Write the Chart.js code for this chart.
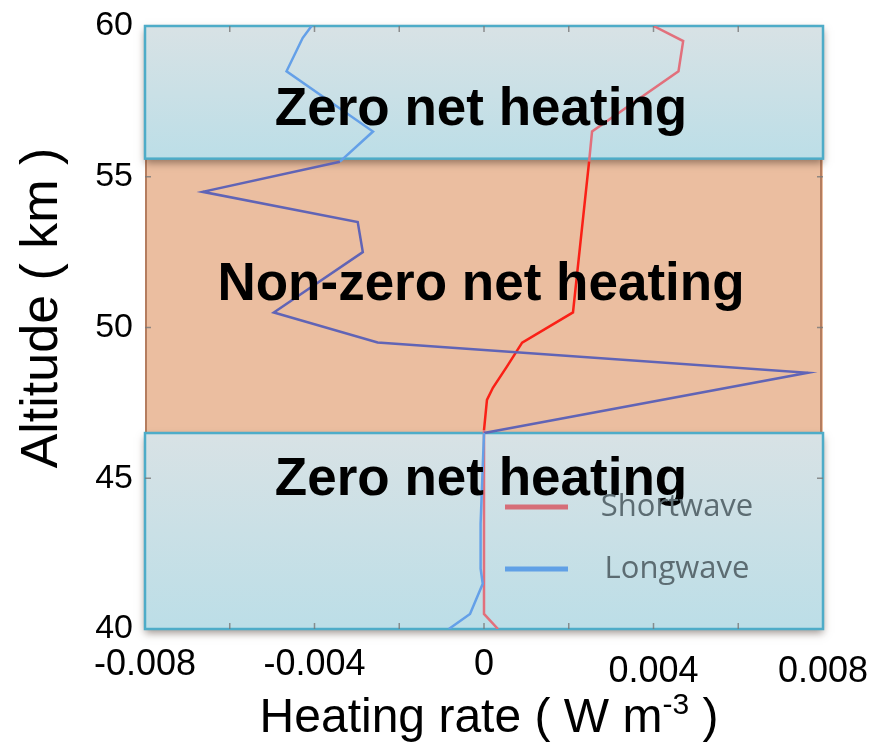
<!DOCTYPE html>
<html>
  <head>
    <meta charset="utf-8" />
    <title>Heating rate profile</title>
    <script src="https://cdn.jsdelivr.net/npm/chart.js@4.4.1/dist/chart.umd.min.js"></script>
    <style>
      body { margin: 0; background: #fff; }
      #wrap { width: 877px; height: 748px; }
    </style>
  </head>
  <body>
    <div id="wrap"><canvas id="myChart"></canvas></div>
    <script>
      // heating rate profiles, altitude in km, rate in W m-3
      const swAltitude = [60, 59.5, 58.5, 56.5, 55.5, 50.5, 49.5, 48.7, 48.0, 47.6, 46.6, 40.5, 40];
      const swRate = [0.0040, 0.0047, 0.00459, 0.00255, 0.00248, 0.0021, 0.0009, 0.00054, 0.00021, 0.00007, 0, 0, 0.00033];
      const lwAltitude = [60, 59.6, 58.5, 56.5, 55.5, 54.5, 53.5, 52.5, 50.5, 49.5, 48.5, 46.5, 43.5, 42, 41.5, 40.5, 40];
      const lwRate = [-0.00407, -0.00428, -0.00466, -0.00262, -0.0034, -0.00664, -0.00298, -0.00286, -0.00496, -0.00251, 0.00764, 0, -0.00008, -0.00008, -0.00003, -0.00033, -0.00083];

      // shaded layers
      const layerBottom = [40, 46.5, 55.6];
      const layerTop = [46.5, 55.6, 60];
      const layerLabels = ["Zero net heating", "Non-zero net heating", "Zero net heating"];
      const layerHeated = [false, true, false];

      const xTickLabels = [-0.008, -0.004, 0, 0.004, 0.008];

      const FONT = '"Liberation Sans", Arial, sans-serif';

      const inHeated = (alt) =>
        layerHeated.some((h, i) => h && alt >= layerBottom[i] && alt <= layerTop[i]);
      const segColor = (light, dark) => (c) =>
        inHeated((c.p0.parsed.y + c.p1.parsed.y) / 2) ? dark : light;

      const layersPlugin = {
        id: "layers",
        beforeDatasetsDraw(chart) {
          const { ctx, chartArea: a, scales: { y } } = chart;
          ctx.save();
          // heated layer first, the others throw a shadow onto it
          layerHeated.forEach((h, i) => {
            if (!h) return;
            const top = y.getPixelForValue(layerTop[i]);
            const bot = y.getPixelForValue(layerBottom[i]);
            ctx.fillStyle = "rgb(235,190,160)";
            ctx.fillRect(a.left, top, a.width, bot - top);
            ctx.strokeStyle = "rgb(180,125,95)";
            ctx.lineWidth = 2;
            ctx.beginPath();
            ctx.moveTo(a.left + 1, top); ctx.lineTo(a.left + 1, bot);
            ctx.moveTo(a.right - 2, top); ctx.lineTo(a.right - 2, bot);
            ctx.stroke();
          });
          layerHeated.forEach((h, i) => {
            if (h) return;
            const top = y.getPixelForValue(layerTop[i]);
            const bot = y.getPixelForValue(layerBottom[i]);
            const g = ctx.createLinearGradient(0, top, 0, bot);
            g.addColorStop(0, "rgb(216,226,229)");
            g.addColorStop(1, "rgb(188,222,231)");
            ctx.save();
            ctx.shadowColor = "rgba(60,40,30,0.5)";
            ctx.shadowBlur = 8;
            ctx.shadowOffsetY = 4;
            ctx.fillStyle = g;
            ctx.fillRect(a.left, top, a.width, bot - top);
            ctx.restore();
            ctx.strokeStyle = "rgb(78,172,200)";
            ctx.lineWidth = 2.5;
            ctx.strokeRect(a.left, top, a.width, bot - top);
          });
          ctx.restore();
        },
        afterDatasetsDraw(chart) {
          const { ctx, chartArea: a, scales: { x, y } } = chart;
          ctx.save();
          // small inward tick marks on all four sides
          ctx.strokeStyle = "rgba(120,120,120,0.8)";
          ctx.lineWidth = 1.5;
          ctx.beginPath();
          x.ticks.forEach((t) => {
            const px = x.getPixelForValue(t.value);
            if (px <= a.left + 2 || px >= a.right - 2) return;
            ctx.moveTo(px, a.top); ctx.lineTo(px, a.top + 6);
            ctx.moveTo(px, a.bottom); ctx.lineTo(px, a.bottom - 6);
          });
          y.ticks.forEach((t) => {
            const py = y.getPixelForValue(t.value);
            if (py <= a.top + 2 || py >= a.bottom - 2) return;
            ctx.moveTo(a.left, py); ctx.lineTo(a.left + 6, py);
            ctx.moveTo(a.right, py); ctx.lineTo(a.right - 6, py);
          });
          ctx.stroke();

          // layer captions, baseline given in km
          const at = chart.options.plugins.layers.labelAt;
          ctx.fillStyle = "#000";
          ctx.font = "bold 53px " + FONT;
          ctx.textAlign = "center";
          ctx.textBaseline = "alphabetic";
          layerLabels.forEach((txt, i) => {
            ctx.fillText(txt, (a.left + a.right) / 2 - 3, y.getPixelForValue(at[i]));
          });

          // legend inside the plot
          const lg = chart.options.plugins.layers.legend;
          ctx.font = '31px "Open Sans", "Noto Sans", sans-serif';
          ctx.textBaseline = "middle";
          chart.data.datasets.forEach((ds, i) => {
            const row = lg.rows[i];
            ctx.strokeStyle = lg.colors[i];
            ctx.lineWidth = 5;
            ctx.beginPath();
            ctx.moveTo(lg.x, row); ctx.lineTo(lg.x + 63, row);
            ctx.stroke();
            ctx.fillStyle = "rgb(92,108,114)";
            ctx.fillText(ds.label, lg.x + 172, row);
          });
          ctx.restore();
        },
        afterDraw(chart) {
          const { ctx, scales: { x, y } } = chart;
          ctx.save();
          ctx.fillStyle = "#000";
          // x tick labels
          ctx.font = "36px " + FONT;
          ctx.textAlign = "center";
          ctx.textBaseline = "alphabetic";
          xTickLabels.forEach((v) => {
            const base = v > 0 ? 682 : 675;
            ctx.fillText(String(v), x.getPixelForValue(v), base);
          });

          // x title with superscript unit
          const parts = ["Heating rate ( W m", "-3", " )"];
          ctx.font = "48px " + FONT;
          const w0 = ctx.measureText(parts[0]).width;
          const w2 = ctx.measureText(parts[2]).width;
          ctx.font = "30px " + FONT;
          const w1 = ctx.measureText(parts[1]).width;
          let sx = 489 - (w0 + w1 + w2) / 2;
          ctx.textAlign = "left";
          ctx.font = "48px " + FONT;
          ctx.fillText(parts[0], sx, 732);
          ctx.font = "30px " + FONT;
          ctx.fillText(parts[1], sx + w0, 714);
          ctx.font = "48px " + FONT;
          ctx.fillText(parts[2], sx + w0 + w1, 732);

          // y title
          ctx.translate(57, 308);
          ctx.rotate(-Math.PI / 2);
          ctx.textAlign = "center";
          ctx.font = "52px " + FONT;
          ctx.fillText("Altitude ( km )", 0, 0);
          ctx.restore();
        },
      };

      const datasets = [
        {
          label: "Shortwave",
          data: swRate.map((v, i) => ({ x: v, y: swAltitude[i] })),
          borderColor: "rgb(226,112,124)",
          segment: { borderColor: segColor("rgb(226,112,124)", "rgb(250,32,22)") },
          borderWidth: 2.5,
          pointRadius: 0,
          tension: 0,
          order: 2,
        },
        {
          label: "Longwave",
          data: lwRate.map((v, i) => ({ x: v, y: lwAltitude[i] })),
          borderColor: "rgb(100,160,232)",
          segment: { borderColor: segColor("rgb(100,160,232)", "rgb(96,100,182)") },
          borderWidth: 2.5,
          pointRadius: 0,
          tension: 0,
          order: 1,
        },
      ];

      const config = {
        type: "line",
        data: { datasets: datasets },
        options: {
          responsive: true,
          maintainAspectRatio: false,
          animation: false,
          layout: { padding: { top: 26, right: 54, left: 0, bottom: 0 } },
          plugins: {
            legend: { display: false },
            tooltip: { enabled: false },
            layers: {
              labelAt: [44.45, 50.9, 56.73],
              legend: {
                x: 505,
                rows: [507, 569],
                colors: ["rgb(214,110,120)", "rgb(96,160,230)"],
              },
            },
          },
          scales: {
            x: {
              type: "linear",
              min: -0.008,
              max: 0.008,
              ticks: { stepSize: 0.002, display: false },
              grid: { display: false, drawTicks: false },
              border: { display: false },
              afterFit(s) { s.height = 119; },
            },
            y: {
              type: "linear",
              min: 40,
              max: 60,
              ticks: {
                stepSize: 5,
                color: "#000",
                padding: 12,
                font: { family: FONT, size: 34 },
              },
              grid: { display: false, drawTicks: false },
              border: { display: false },
              afterFit(s) {
                s.width = 145;
                s.paddingTop = 0;
                s.paddingBottom = 0;
              },
            },
          },
        },
        plugins: [layersPlugin],
      };

      new Chart(document.getElementById("myChart"), config);
    </script>
  </body>
</html>
